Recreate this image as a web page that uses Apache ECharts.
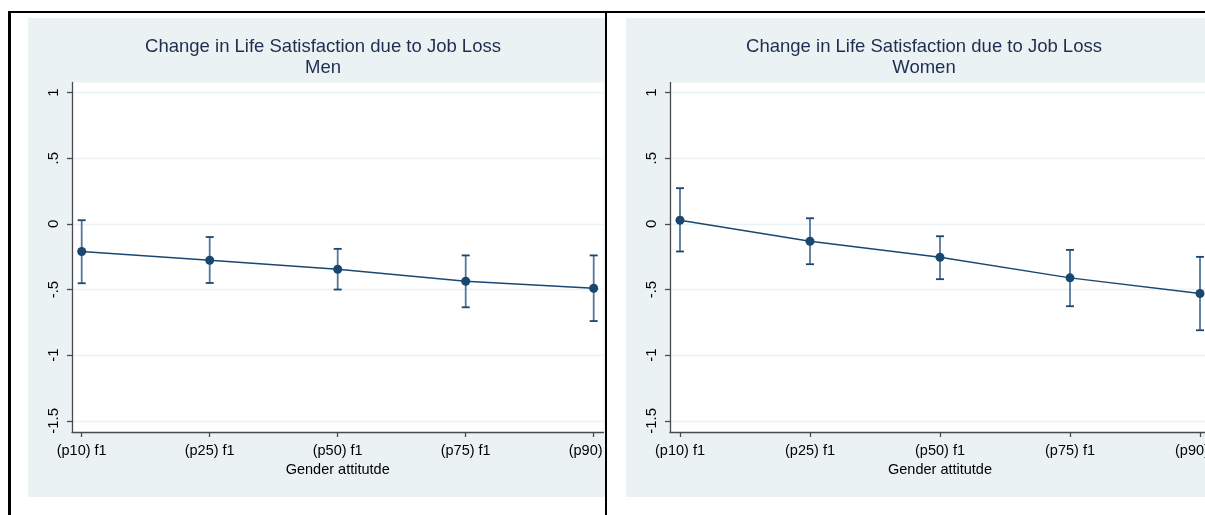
<!DOCTYPE html>
<html>
<head>
<meta charset="utf-8">
<script src="https://cdn.jsdelivr.net/npm/echarts@6/dist/echarts.min.js"></script>
<style>
  html, body { margin: 0; padding: 0; background: #fff; }
  #chart { width: 1205px; height: 515px; }
</style>
</head>
<body>
<div id="chart"></div>
<script>
// Margins of job loss on life satisfaction, by gender-attitude percentile
const categories = ['(p10) f1', '(p25) f1', '(p50) f1', '(p75) f1', '(p90) f1'];

const menEst = [-0.21, -0.277, -0.345, -0.437, -0.49];
const menLo  = [-0.452, -0.45, -0.50, -0.635, -0.74];
const menHi  = [0.028, -0.10, -0.19, -0.24, -0.24];

const womenEst = [0.028, -0.132, -0.254, -0.411, -0.530];
const womenLo  = [-0.21, -0.307, -0.421, -0.627, -0.810];
const womenHi  = [0.272, 0.043, -0.094, -0.198, -0.251];

const yTickValues = [-1.5, -1, -0.5, 0, 0.5, 1];
const yTickLabels = ['-1.5', '-1', '-.5', '0', '.5', '1'];

const titleText = 'Change in Life Satisfaction due to Job Loss';
const panelNames = ['Men', 'Women'];
const xTitle = 'Gender attitutde';

const FONT = '"Liberation Sans", Arial, Helvetica, sans-serif';
const NAVY = '#1A476F';
const BAR = '#55789a';
const AXIS = '#4a4a4a';
const BG = '#EAF2F3';

const chart = echarts.init(document.getElementById('chart'), null, { renderer: 'canvas' });

// two panels: grid geometry per panel
const panels = [
  { left: 72, width: 531.4, xmin: -0.0758, xmax: 4.0758, titleX: 323 },
  { left: 670, width: 540, xmin: -0.0769, xmax: 4.0769, titleX: 924 }
];

function yLabel(v) {
  const i = yTickValues.findIndex(t => Math.abs(t - v) < 1e-9);
  return i >= 0 ? yTickLabels[i] : '';
}

const grids = panels.map(p => ({
  left: p.left, top: 82.5, width: p.width, height: 349.5,
  show: true, backgroundColor: '#ffffff', borderWidth: 0,
  containLabel: false, outerBoundsMode: 'none'
}));

const xAxes = panels.map((p, i) => ({
  type: 'value', gridIndex: i, min: p.xmin, max: p.xmax,
  name: xTitle, nameLocation: 'middle', nameGap: 27,
  nameTextStyle: { fontFamily: FONT, fontSize: 14.5, color: '#000' },
  axisLine: { show: true, onZero: false, lineStyle: { color: AXIS, width: 1.3 } },
  axisTick: { show: true, length: 5, customValues: [0, 1, 2, 3, 4], lineStyle: { color: AXIS, width: 1.3 } },
  axisLabel: {
    customValues: [0, 1, 2, 3, 4], margin: 11, hideOverlap: false,
    fontFamily: FONT, fontSize: 14.5, color: '#000',
    formatter: v => categories[Math.round(v)]
  },
  splitLine: { show: false }
}));

const yAxes = panels.map((p, i) => ({
  type: 'value', gridIndex: i, min: -1.585, max: 1.077,
  axisLine: { show: true, onZero: false, lineStyle: { color: AXIS, width: 1.3 } },
  axisTick: { show: true, length: 5, customValues: yTickValues, lineStyle: { color: AXIS, width: 1.3 } },
  axisLabel: {
    customValues: yTickValues, rotate: 90, margin: 11,
    fontFamily: FONT, fontSize: 15, color: '#000',
    formatter: yLabel
  },
  splitLine: { show: true, lineStyle: { color: BG, width: 1.3 } }
}));

function capSeries(lo, hi, idx) {
  return {
    type: 'custom', xAxisIndex: idx, yAxisIndex: idx,
    data: lo.map((v, k) => [k, v, hi[k]]),
    encode: { x: 0, y: [1, 2] },
    z: 3,
    renderItem: (params, api) => {
      const x = api.value(0);
      const pLo = api.coord([x, api.value(1)]);
      const pHi = api.coord([x, api.value(2)]);
      const hw = 4;
      return {
        type: 'group',
        children: [
          { type: 'line', shape: { x1: pLo[0], y1: pLo[1], x2: pHi[0], y2: pHi[1] },
            style: { stroke: BAR, lineWidth: 1.8 } },
          { type: 'line', shape: { x1: pLo[0] - hw, y1: pLo[1], x2: pLo[0] + hw, y2: pLo[1] },
            style: { stroke: NAVY, lineWidth: 1.8 } },
          { type: 'line', shape: { x1: pHi[0] - hw, y1: pHi[1], x2: pHi[0] + hw, y2: pHi[1] },
            style: { stroke: NAVY, lineWidth: 1.8 } }
        ]
      };
    }
  };
}

function lineSeries(est, idx) {
  return {
    type: 'line', xAxisIndex: idx, yAxisIndex: idx,
    data: est.map((v, k) => [k, v]),
    symbol: 'circle', symbolSize: 9,
    lineStyle: { color: NAVY, width: 1.4 },
    itemStyle: { color: NAVY },
    z: 4, animation: false
  };
}

const option = {
  animation: false,
  backgroundColor: '#ffffff',
  title: panels.map((p, i) => ({
    text: titleText + '\n' + panelNames[i],
    left: p.titleX, top: 36.5, padding: 0,
    textAlign: 'center',
    textStyle: { fontFamily: FONT, fontSize: 18.5, fontWeight: 'normal', color: '#1f2d4f', lineHeight: 21 }
  })),
  grid: grids,
  xAxis: xAxes,
  yAxis: yAxes,
  series: [
    capSeries(menLo, menHi, 0), lineSeries(menEst, 0),
    capSeries(womenLo, womenHi, 1), lineSeries(womenEst, 1)
  ],
  graphic: [
    // panel backgrounds
    { type: 'rect', z: -100, shape: { x: 28, y: 18, width: 577, height: 479 }, style: { fill: BG } },
    { type: 'rect', z: -100, shape: { x: 626, y: 18, width: 579, height: 479 }, style: { fill: BG } },
    // gap between panels
    { type: 'rect', z: 100, shape: { x: 607, y: 13, width: 19, height: 502 }, style: { fill: '#ffffff' } },
    // frame lines
    { type: 'rect', z: 101, shape: { x: 8, y: 11, width: 1197, height: 2 }, style: { fill: '#000' } },
    { type: 'rect', z: 101, shape: { x: 8, y: 11, width: 3, height: 504 }, style: { fill: '#000' } },
    { type: 'rect', z: 101, shape: { x: 605, y: 11, width: 2, height: 504 }, style: { fill: '#000' } }
  ]
};

chart.setOption(option);
</script>
</body>
</html>
